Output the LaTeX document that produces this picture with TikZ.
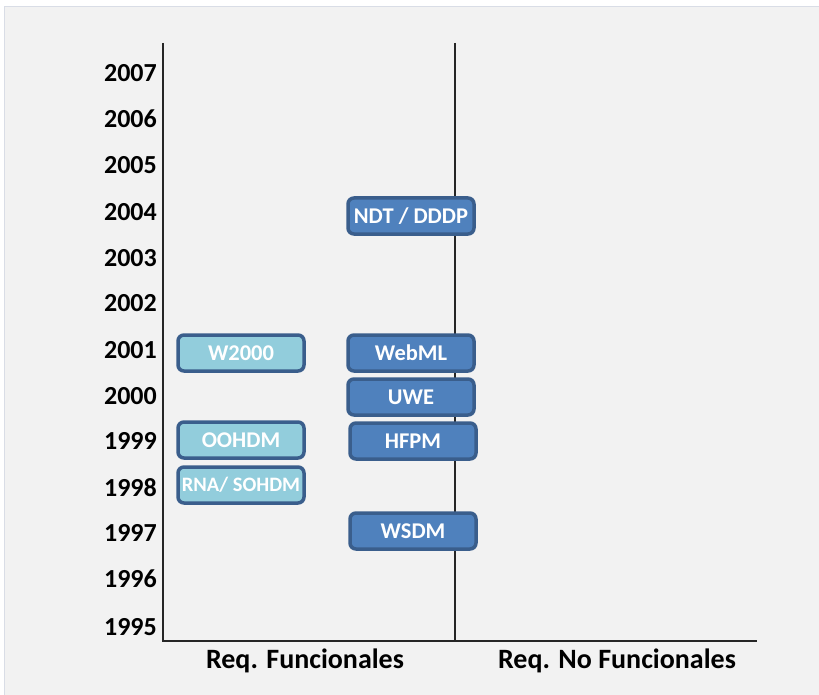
\documentclass[tikz,border=0pt]{standalone}
\usepackage{fontspec}
\setmainfont{Carlito}
\definecolor{bgG}{HTML}{F2F2F2}
\definecolor{frameG}{HTML}{D9DDE6}
\definecolor{lightF}{HTML}{92CDDC}
\definecolor{darkF}{HTML}{4F81BD}
\definecolor{boxB}{HTML}{3A5E8C}
\definecolor{axisC}{HTML}{262626}
\tikzset{
  year/.style={anchor=east, inner sep=0pt, font=\fontsize{26}{26}\selectfont\bfseries, text=black},
  mbox/.style={rounded corners=6pt, draw=boxB, line width=3.5pt, minimum width=126pt, minimum height=36pt,
     inner sep=0pt, text=white, font=\fontsize{22.5}{22.5}\selectfont\bfseries},
  lbox/.style={mbox, fill=lightF},
  dbox/.style={mbox, fill=darkF},
  axislabel/.style={inner sep=0pt, font=\fontsize{28}{28}\selectfont\bfseries, text=black},
  axisline/.style={draw=axisC, line width=1.6pt}
}
\begin{document}
\begin{tikzpicture}[x=1pt,y=-1pt]
\useasboundingbox (0,0) rectangle (819,695);
\fill[white] (0,0) rectangle (819,695);
\fill[bgG, draw=frameG, line width=1pt] (4,7) rectangle (825,700);
% axes
\coordinate (lt) at (163,43);
\coordinate (mt) at (455,43);
\coordinate (lb) at (163,641);
\coordinate (mb) at (455,641);
\coordinate (rb) at (757,641);
\draw[axisline] (mt) -- (mb);
\draw[axisline] (lt) -- (lb) -- (rb);
% years
\foreach \yr/\yy in {2007/73,2006/119,2005/165,2004/212,2003/258,2002/303,2001/350,2000/396,1999/441,1998/488,1997/533,1996/579,1995/627}
  \node[year] (y\yr) at (157,\yy) {\yr};
% boxes
\node[lbox] (w2000) at (241,353) {W2000};
\node[lbox] (oohdm) at (241,440) {OOHDM};
\node[lbox, font=\fontsize{20.5}{20.5}\selectfont\bfseries] (rna) at (241,485) {RNA/ SOHDM};
\node[dbox] (ndt) at (411,216) {NDT / DDDP};
\node[dbox] (webml) at (411,353) {WebML};
\node[dbox] (uwe) at (411,397) {UWE};
\node[dbox] (hfpm) at (413,441) {HFPM};
\node[dbox] (wsdm) at (413,531) {WSDM};
% axis labels
\node[axislabel] (rf) at (305,661) {Req. Funcionales};
\node[axislabel] (rnf) at (617,661) {Req. No Funcionales};
\end{tikzpicture}
\end{document}
